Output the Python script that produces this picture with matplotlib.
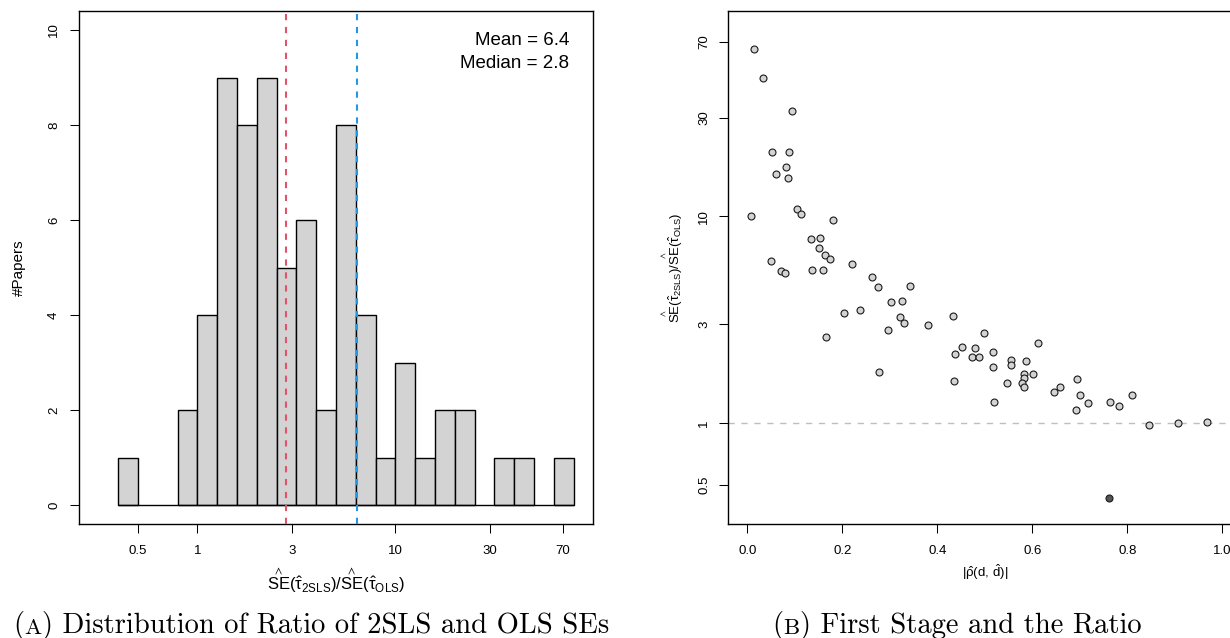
import numpy as np
import matplotlib
matplotlib.use("Agg")
import matplotlib.pyplot as plt

plt.rcParams['font.family'] = ['Liberation Sans', 'DejaVu Sans']
plt.rcParams['mathtext.fontset'] = 'custom'
plt.rcParams['mathtext.rm'] = 'Liberation Sans'
plt.rcParams['mathtext.it'] = 'Liberation Sans:italic'
plt.rcParams['mathtext.bf'] = 'Liberation Sans:bold'
plt.rcParams['mathtext.fallback'] = 'stixsans'

# panel A: histogram of log10(SE ratio), bins of 0.1 in log10
bin_lo = [-0.4, -0.3, -0.2, -0.1, 0.0, 0.1, 0.2, 0.3, 0.4, 0.5, 0.6, 0.7,
          0.8, 0.9, 1.0, 1.1, 1.2, 1.3, 1.4, 1.5, 1.6, 1.7, 1.8]
bin_hi = [-0.3, -0.2, -0.1, 0.0, 0.1, 0.2, 0.3, 0.4, 0.5, 0.6, 0.7, 0.8,
          0.9, 1.0, 1.1, 1.2, 1.3, 1.4, 1.5, 1.6, 1.7, 1.8, 1.9]
counts = [1, 0, 0, 2, 4, 9, 8, 9, 5, 6, 2, 8, 4, 1, 3, 1, 2, 2, 0, 1, 1, 0, 1]
mean_ratio = 6.4
median_ratio = 2.8
ratio_ticks = [0.5, 1, 3, 10, 30, 70]
count_ticks = [0, 2, 4, 6, 8, 10]

# panel B: first stage |rho| vs SE ratio
rho = [0.0135, 0.032, 0.094, 0.053, 0.088, 0.082, 0.061, 0.0865, 0.1056, 0.1135,
       0.008, 0.180, 0.135, 0.153, 0.152, 0.1635, 0.1746, 0.050, 0.220, 0.0714,
       0.0786, 0.137, 0.159, 0.2635, 0.276, 0.342, 0.3016, 0.326, 0.203, 0.237,
       0.321, 0.329, 0.381, 0.434, 0.296, 0.165, 0.499, 0.612, 0.452, 0.479,
       0.518, 0.4365, 0.474, 0.487, 0.556, 0.586, 0.556, 0.518, 0.278, 0.582,
       0.602, 0.582, 0.694, 0.436, 0.546, 0.579, 0.582, 0.658, 0.645, 0.701,
       0.8095, 0.519, 0.763, 0.717, 0.783, 0.692, 0.845, 0.906, 0.967]
ratio = [64.3, 46.5, 32.4, 20.4, 20.5, 17.3, 16.1, 15.3, 10.9, 10.3,
         10.0, 9.57, 7.77, 7.87, 7.02, 6.52, 6.19, 6.09, 5.89, 5.43,
         5.32, 5.53, 5.50, 5.10, 4.53, 4.58, 3.85, 3.88, 3.42, 3.52,
         3.26, 3.05, 2.99, 3.29, 2.82, 2.61, 2.72, 2.45, 2.32, 2.30,
         2.21, 2.16, 2.09, 2.09, 2.02, 2.00, 1.91, 1.86, 1.76, 1.72,
         1.72, 1.65, 1.63, 1.59, 1.57, 1.56, 1.49, 1.50, 1.41, 1.37,
         1.36, 1.26, 1.27, 1.25, 1.21, 1.16, 0.98, 1.00, 1.01]
rho_dark = [0.761]
ratio_dark = [0.435]
rho_ticks = [0.0, 0.2, 0.4, 0.6, 0.8, 1.0]

se_label = (r'$\overset{\wedge}{\mathrm{SE}}(\hat{\mathrm{\tau}}_{\mathrm{2SLS}})/'
            r'\overset{\wedge}{\mathrm{SE}}(\hat{\mathrm{\tau}}_{\mathrm{OLS}})$')

fig = plt.figure(figsize=(12.3, 6.38), dpi=100)
W, H = 1230.0, 638.0

def box(l, t, r, b):
    return [l / W, 1 - b / H, (r - l) / W, (b - t) / H]

ax1 = fig.add_axes(box(79.3, 11, 592.7, 524.3))
ax2 = fig.add_axes(box(728.3, 10.7, 1241.3, 524.3))

# ---- panel A
lo = 10 ** np.array(bin_lo)
hi = 10 ** np.array(bin_hi)
ax1.set_xscale('log')
keep = np.array(counts) > 0
ax1.bar(lo[keep], np.array(counts)[keep], width=(hi - lo)[keep], align='edge',
        color='#D3D3D3', edgecolor='black', linewidth=1.0, zorder=2)
# baseline segments drawn by R for empty bins
ax1.hlines(0, lo[0], hi[-1], color='black', linewidth=1.0, zorder=2)
ax1.axvline(median_ratio, color='#DF536B', linewidth=1.5, dashes=(3.0, 3.2), zorder=3)
ax1.axvline(mean_ratio, color='#2297E6', linewidth=1.5, dashes=(3.0, 3.2), zorder=3)
ax1.set_xlim(10 ** -0.596, 10 ** 1.996)
ax1.set_ylim(-0.4, 10.4)
ax1.set_xticks(ratio_ticks)
ax1.set_xticklabels([str(v) for v in ratio_ticks])
ax1.xaxis.set_minor_locator(matplotlib.ticker.NullLocator())
ax1.set_yticks(count_ticks)
ax1.text(0.9544, 0.9435, 'Mean = %.1f' % mean_ratio, transform=ax1.transAxes,
         ha='right', va='center', fontsize=13.5)
ax1.text(0.9544, 0.8968, 'Median = %.1f' % median_ratio, transform=ax1.transAxes,
         ha='right', va='center', fontsize=13.5)
ax1.set_ylabel('#Papers', fontsize=11, va='center')
ax1.yaxis.set_label_coords(-0.1175, 0.5)
ax1.set_xlabel(se_label, fontsize=12, va='center')
ax1.xaxis.set_label_coords(0.5, -0.1085)

# ---- panel B
ax2.set_yscale('log')
ax2.axhline(1, color='#BEBEBE', linewidth=1.0, dashes=(4.5, 4.8), zorder=1)
ax2.plot(rho, ratio, 'o', markersize=5, markerfacecolor='#D3D3D3',
         markeredgecolor='#1a1a1a', markeredgewidth=0.8, zorder=3)
ax2.plot(rho_dark, ratio_dark, 'o', markersize=5, markerfacecolor='#555555',
         markeredgecolor='#1a1a1a', markeredgewidth=0.8, zorder=3)
ax2.set_xlim(-0.04, 1.04)
ax2.set_ylim(10 ** -0.490, 10 ** 1.995)
ax2.set_xticks(rho_ticks)
ax2.set_xticklabels(['%.1f' % v for v in rho_ticks])
ax2.set_yticks(ratio_ticks)
ax2.set_yticklabels([str(v) for v in ratio_ticks])
ax2.yaxis.set_minor_locator(matplotlib.ticker.NullLocator())
ax2.set_xlabel(r'$|\hat{\mathrm{\rho}}(\mathrm{d},\, \hat{\mathrm{d}})|$', fontsize=9.5, va='center')
ax2.xaxis.set_label_coords(0.5, -0.093)
ax2.set_ylabel(se_label, fontsize=9.5, va='center')
ax2.yaxis.set_label_coords(-0.1088, 0.5)

for ax, ypad in ((ax1, 7.3), (ax2, 6.5)):
    for s in ax.spines.values():
        s.set_linewidth(1.0)
    ax.tick_params(axis='both', direction='out', length=6.5, width=0.75,
                   labelsize=9.5)
    ax.tick_params(axis='x', pad=8.5)
    ax.tick_params(axis='y', pad=ypad)
    for lab in ax.get_yticklabels():
        lab.set_rotation(90)
        lab.set_va('center')

# captions in a Computer Modern style serif, small-cap letter
cap_y = 1 - 632.7 / H
for x0, letter, rest in ((13 / W, 'A', ') Distribution of Ratio of 2SLS and OLS SEs'),
                         (772 / W, 'B', ') First Stage and the Ratio')):
    t0 = fig.text(x0, cap_y, '(', fontsize=20.6, family='cmr10', va='baseline')
    a1 = plt.annotate(letter, xy=(1, 0), xycoords=t0, fontsize=16.5, family='cmr10',
                      va='bottom', ha='left', annotation_clip=False,
                      xytext=(0.3, 0.9), textcoords='offset points')
    plt.annotate(rest, xy=(1, 0), xycoords=a1, fontsize=20.6, family='cmr10',
                 va='bottom', ha='left', annotation_clip=False,
                 xytext=(0.3, -0.9), textcoords='offset points')

fig.savefig('out.png', dpi=100)
